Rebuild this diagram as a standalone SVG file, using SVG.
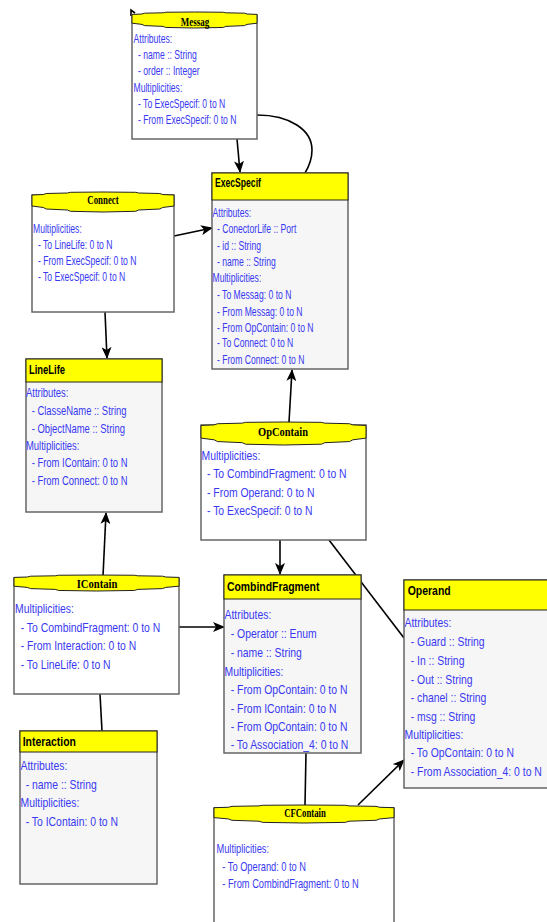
<svg xmlns="http://www.w3.org/2000/svg" xmlns:xlink="http://www.w3.org/1999/xlink" width="547" height="922" viewBox="0 0 547 922">
<style>
.bg{fill:#ffffff}
.cbody{fill:#f6f6f6;stroke:#666;stroke-width:1.5}
.chead{fill:#ffff00;stroke:#222;stroke-width:1}
.abody{fill:#ffffff;stroke:#666;stroke-width:1.5}
.bnr{fill:#ffff00;stroke:#222;stroke-width:1}
.t{font-family:"Liberation Sans",Arial,sans-serif;fill:#3838f2}
.hc{font-family:"Liberation Sans",Arial,sans-serif;font-weight:bold;fill:#000}
.ha{font-family:"Liberation Serif","Times New Roman",serif;font-weight:bold;fill:#000;text-anchor:middle}
.up{font-size:12.3px}
.mid{font-size:12.8px}
.lo{font-size:13px}
.ln{fill:none;stroke:#000;stroke-width:1.6}
</style>
<defs>
<path id="bn" vector-effect="non-scaling-stroke" d="M0,3 L8,2.5 L10,1.5 L25,1 L27,0.3 L50,0 L73,0.3 L75,1 L90,1.5 L92,2.5 L100,3 L100,14 L92,15.5 L90,17 L75,18 L73,19.3 L50,20 L27,19.3 L25,18 L10,17 L8,15.5 L0,14 Z"/>
<marker id="ar" markerUnits="userSpaceOnUse" markerWidth="12" markerHeight="10" viewBox="0 0 12 10" refX="11" refY="5" orient="auto">
<path d="M0,0 L12,5 L0,10 L3,5 Z" fill="#000"/>
</marker>
</defs>
<rect class="bg" x="0" y="0" width="547" height="922"/>

<g id="connectors">
<path class="ln" d="M131,16 L131,10 L135,13"/>
<line class="ln" x1="237" y1="139" x2="240" y2="172" marker-end="url(#ar)"/>
<path class="ln" d="M257,115 C290,115 312,130 312,150 C312,160 308,168 305,173"/>
<line class="ln" x1="174" y1="236" x2="212" y2="228" marker-end="url(#ar)"/>
<line class="ln" x1="105" y1="312" x2="107" y2="358" marker-end="url(#ar)"/>
<line class="ln" x1="289" y1="422" x2="292" y2="370" marker-end="url(#ar)"/>
<line class="ln" x1="280" y1="540" x2="280" y2="574" marker-end="url(#ar)"/>
<line class="ln" x1="329" y1="540" x2="404" y2="638"/>
<line class="ln" x1="103" y1="576" x2="106" y2="513" marker-end="url(#ar)"/>
<line class="ln" x1="179" y1="627" x2="224" y2="627" marker-end="url(#ar)"/>
<line class="ln" x1="100" y1="694" x2="102" y2="731"/>
<line class="ln" x1="306" y1="753" x2="305" y2="805"/>
<line class="ln" x1="358" y1="805" x2="404" y2="760" marker-end="url(#ar)"/>
</g>

<g id="Messag">
<rect class="abody" x="132" y="15" width="125" height="124"/>
<use xlink:href="#bn" class="bnr" transform="translate(132,12) scale(1.25,0.8)"/>
<text class="ha up" transform="translate(195,26) scale(0.73,1)" x="0" y="0">Messag</text>
<g class="t up" transform="translate(133.5,0) scale(0.70,1)">
<text x="0" y="43">Attributes:</text>
<text x="6.4" y="59">- name :: String</text>
<text x="6.4" y="75">- order :: Integer</text>
<text x="0" y="92">Multiplicities:</text>
<text x="6.4" y="108">- To ExecSpecif: 0 to N</text>
<text x="6.4" y="124">- From ExecSpecif: 0 to N</text>
</g>
</g>

<g id="Connect">
<rect class="abody" x="32" y="195" width="142" height="117"/>
<use xlink:href="#bn" class="bnr" transform="translate(32,192) scale(1.42,1)"/>
<text class="ha up" transform="translate(103,204) scale(0.715,1)" x="0" y="0">Connect</text>
<g class="t up" transform="translate(33,0) scale(0.70,1)">
<text x="0" y="233">Multiplicities:</text>
<text x="7.1" y="249.5">- To LineLife: 0 to N</text>
<text x="7.1" y="265">- From ExecSpecif: 0 to N</text>
<text x="7.1" y="281.5">- To ExecSpecif: 0 to N</text>
</g>
</g>

<g id="ExecSpecif">
<rect class="cbody" x="212" y="173" width="136" height="196"/>
<rect class="chead" x="212" y="173" width="136" height="27"/>
<text class="hc up" transform="translate(215,187) scale(0.70,1)" x="0" y="0">ExecSpecif</text>
<g class="t up" transform="translate(212.5,0) scale(0.70,1)">
<text x="0" y="217">Attributes:</text>
<text x="6.4" y="233">- ConectorLife :: Port</text>
<text x="6.4" y="250">- id :: String</text>
<text x="6.4" y="266">- name :: String</text>
<text x="0" y="282">Multiplicities:</text>
<text x="6.4" y="299">- To Messag: 0 to N</text>
<text x="6.4" y="316">- From Messag: 0 to N</text>
<text x="6.4" y="332">- From OpContain: 0 to N</text>
<text x="6.4" y="347">- To Connect: 0 to N</text>
<text x="6.4" y="364">- From Connect: 0 to N</text>
</g>
</g>

<g id="LineLife">
<rect class="cbody" x="26" y="359" width="136" height="153"/>
<rect class="chead" x="26" y="359" width="136" height="23"/>
<text class="hc mid" transform="translate(29,373.5) scale(0.735,1)" x="0" y="0">LineLife</text>
<g class="t mid" transform="translate(26,0) scale(0.737,1)">
<text x="0" y="397">Attributes:</text>
<text x="7.7" y="415">- ClasseName :: String</text>
<text x="7.7" y="433">- ObjectName :: String</text>
<text x="0" y="450">Multiplicities:</text>
<text x="7.7" y="467">- From IContain: 0 to N</text>
<text x="7.7" y="485">- From Connect: 0 to N</text>
</g>
</g>

<g id="OpContain">
<rect class="abody" x="201" y="425" width="165" height="115"/>
<use xlink:href="#bn" class="bnr" transform="translate(201,422) scale(1.65,1.15)"/>
<text class="ha lo" transform="translate(283,436) scale(0.805,1)" x="0" y="0">OpContain</text>
<g class="t lo" transform="translate(201.5,0) scale(0.8,1)">
<text x="0" y="460">Multiplicities:</text>
<text x="6.9" y="478">- To CombindFragment: 0 to N</text>
<text x="6.9" y="497">- From Operand: 0 to N</text>
<text x="6.9" y="515">- To ExecSpecif: 0 to N</text>
</g>
</g>

<g id="IContain">
<rect class="abody" x="14" y="578" width="165" height="116"/>
<use xlink:href="#bn" class="bnr" transform="translate(14,575) scale(1.65,0.8)"/>
<text class="ha lo" transform="translate(97,588) scale(0.815,1)" x="0" y="0">IContain</text>
<g class="t lo" transform="translate(15,0) scale(0.8,1)">
<text x="0" y="613">Multiplicities:</text>
<text x="7.1" y="632">- To CombindFragment: 0 to N</text>
<text x="7.1" y="650">- From Interaction: 0 to N</text>
<text x="7.1" y="669">- To LineLife: 0 to N</text>
</g>
</g>

<g id="CombindFragment">
<rect class="cbody" x="224" y="575" width="137" height="178"/>
<rect class="chead" x="224" y="575" width="137" height="24"/>
<text class="hc lo" transform="translate(227,590.7) scale(0.8,1)" x="0" y="0">CombindFragment</text>
<g class="t lo" transform="translate(224.5,0) scale(0.8,1)">
<text x="0" y="619">Attributes:</text>
<text x="7.75" y="638">- Operator :: Enum</text>
<text x="7.75" y="657">- name :: String</text>
<text x="0" y="676">Multiplicities:</text>
<text x="7.75" y="694">- From OpContain: 0 to N</text>
<text x="7.75" y="713">- From IContain: 0 to N</text>
<text x="7.75" y="731">- From OpContain: 0 to N</text>
<text x="7.75" y="749">- To Association_4: 0 to N</text>
</g>
</g>

<g id="Operand">
<rect class="cbody" x="404" y="580" width="160" height="208"/>
<rect class="chead" x="404" y="580" width="160" height="30"/>
<text class="hc lo" transform="translate(407.7,595) scale(0.805,1)" x="0" y="0">Operand</text>
<g class="t lo" transform="translate(404.5,0) scale(0.8,1)">
<text x="0" y="627">Attributes:</text>
<text x="7.75" y="646">- Guard :: String</text>
<text x="7.75" y="665">- In :: String</text>
<text x="7.75" y="684">- Out :: String</text>
<text x="7.75" y="702">- chanel :: String</text>
<text x="7.75" y="721">- msg :: String</text>
<text x="0" y="739">Multiplicities:</text>
<text x="7.75" y="757">- To OpContain: 0 to N</text>
<text x="7.75" y="776">- From Association_4: 0 to N</text>
</g>
</g>

<g id="Interaction">
<rect class="cbody" x="20" y="731" width="137" height="153"/>
<rect class="chead" x="20" y="731" width="137" height="21"/>
<text class="hc lo" transform="translate(22.7,746) scale(0.802,1)" x="0" y="0">Interaction</text>
<g class="t lo" transform="translate(20.5,0) scale(0.8,1)">
<text x="0" y="770">Attributes:</text>
<text x="6.5" y="789">- name :: String</text>
<text x="0" y="807">Multiplicities:</text>
<text x="6.5" y="826">- To IContain: 0 to N</text>
</g>
</g>

<g id="CFContain">
<rect class="abody" x="214" y="808" width="180" height="130"/>
<use xlink:href="#bn" class="bnr" transform="translate(214,805) scale(1.8,0.9)"/>
<text class="ha mid" transform="translate(305,817) scale(0.68,1)" x="0" y="0">CFContain</text>
<g class="t mid" transform="translate(216.5,0) scale(0.725,1)">
<text x="0" y="853">Multiplicities:</text>
<text x="8" y="871">- To Operand: 0 to N</text>
<text x="8" y="888">- From CombindFragment: 0 to N</text>
</g>
</g>
</svg>
